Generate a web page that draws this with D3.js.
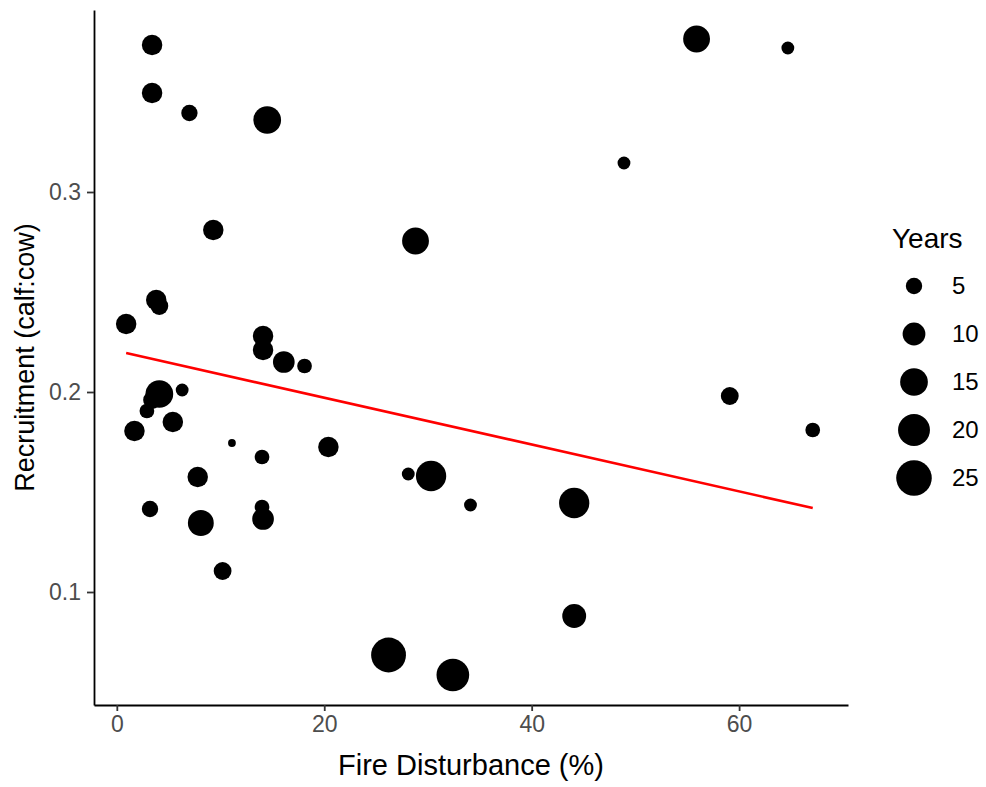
<!DOCTYPE html>
<html>
<head>
<meta charset="utf-8">
<script src="https://cdn.jsdelivr.net/npm/d3@7"></script>
<style>
  body { margin: 0; background: #fff; }
  svg text { font-family: "Liberation Sans", Arial, sans-serif; }
</style>
</head>
<body>
<div id="chart-area"></div>
<script>
// fire disturbance (%), recruitment (calf:cow) and years of data per herd
var fire = [3.4, 3.4, 7.0, 14.5, 9.3, 28.8, 48.9, 55.9, 64.7, 0.9,
            3.8, 4.1, 14.1, 14.1, 16.1, 18.1, 4.1, 3.4, 2.9, 6.3,
            1.7, 5.4, 11.1, 14.0, 20.4, 7.8, 3.2, 8.1, 14.0, 14.1,
            10.2, 28.1, 30.3, 34.1, 44.1, 44.1, 26.2, 32.4, 59.1, 67.1];
var recruit = [0.3735, 0.3495, 0.3395, 0.336, 0.281, 0.2755, 0.3145, 0.3765, 0.372, 0.234,
               0.246, 0.243, 0.228, 0.221, 0.215, 0.213, 0.199, 0.196, 0.1905, 0.201,
               0.1805, 0.185, 0.1745, 0.1675, 0.1725, 0.1575, 0.1415, 0.1345, 0.1425, 0.1365,
               0.1105, 0.159, 0.158, 0.1435, 0.1445, 0.088, 0.0685, 0.0585, 0.198, 0.181];
var years = [8, 8, 5, 15, 8, 14, 3, 14, 3, 8,
             8, 6, 8, 8, 9, 4, 15, 6, 4, 3,
             8, 8, 1, 4, 8, 8, 5, 13, 4, 9,
             6, 3, 18, 3, 18, 11, 24, 21, 6, 4];

// fitted trend line end points
var trendX = [0.9, 67.1];
var trendY = [0.2195, 0.142];

var xTicks = [0, 20, 40, 60];
var yTicks = [0.1, 0.2, 0.3];
var legendYears = [5, 10, 15, 20, 25];

var width = 986, height = 787;
var margin = { left: 94, right: 138, top: 10, bottom: 82 };

var svg = d3.select("#chart-area")
    .append("svg")
        .attr("width", width)
        .attr("height", height);

var x = d3.scaleLinear()
    .domain([-2.2, 70.5])
    .range([margin.left, width - margin.right]);

var y = d3.scaleLinear()
    .domain([0.0435, 0.391])
    .range([height - margin.bottom, margin.top]);

// ggplot style size scale: sqrt mapped to size 1..6, then to pixels
var sizeScale = d3.scaleSqrt().domain([1, 27]).range([1, 6]);
function radius(v) { return 2.05 * (2.845 * sizeScale(v) + 0.945) / 2; }

var data = fire.map(function(d, i) {
    return { fire: d, recruit: recruit[i], years: years[i] };
});

// points
svg.append("g")
    .selectAll("circle")
    .data(data)
  .enter().append("circle")
    .attr("cx", function(d) { return x(d.fire); })
    .attr("cy", function(d) { return y(d.recruit); })
    .attr("r", function(d) { return radius(d.years); })
    .attr("fill", "#000");

// trend line
svg.append("path")
    .datum(trendX.map(function(d, i) { return [d, trendY[i]]; }))
    .attr("fill", "none")
    .attr("stroke", "#ff0000")
    .attr("stroke-width", 2.6)
    .attr("d", d3.line()
        .x(function(d) { return x(d[0]); })
        .y(function(d) { return y(d[1]); }));

// axes
var xAxis = svg.append("g")
    .attr("transform", "translate(0," + (height - margin.bottom) + ")")
    .call(d3.axisBottom(x).tickValues(xTicks).tickSize(6).tickSizeOuter(0)
        .tickPadding(5).tickFormat(d3.format("d")));

var yAxis = svg.append("g")
    .attr("transform", "translate(" + margin.left + ",0)")
    .call(d3.axisLeft(y).tickValues(yTicks).tickSize(7).tickSizeOuter(0)
        .tickPadding(6).tickFormat(d3.format(".1f")));

[xAxis, yAxis].forEach(function(ax) {
    ax.select(".domain").attr("stroke", "#000").attr("stroke-width", 1.8);
    ax.selectAll(".tick line").attr("stroke", "#333").attr("stroke-width", 1.8);
    ax.selectAll(".tick text")
        .attr("fill", "#4d4d4d")
        .style("font-size", "23px")
        .style("font-family", "Liberation Sans, Arial, sans-serif");
});

// axis titles
svg.append("text")
    .attr("x", (margin.left + width - margin.right) / 2)
    .attr("y", 775)
    .attr("text-anchor", "middle")
    .style("font-size", "29px")
    .text("Fire Disturbance (%)");

svg.append("text")
    .attr("transform", "translate(34," + ((margin.top + height - margin.bottom) / 2) + ") rotate(-90)")
    .attr("text-anchor", "middle")
    .style("font-size", "27px")
    .text("Recruitment (calf:cow)");

// legend
var legend = svg.append("g");

legend.append("text")
    .attr("x", 892)
    .attr("y", 248)
    .style("font-size", "28px")
    .text("Years");

var keys = legend.selectAll(".key")
    .data(legendYears)
  .enter().append("g")
    .attr("class", "key")
    .attr("transform", function(d, i) { return "translate(914," + (286 + i * 48) + ")"; });

keys.append("circle")
    .attr("r", function(d) { return radius(d); })
    .attr("fill", "#000");

keys.append("text")
    .attr("x", 38)
    .attr("dy", "0.35em")
    .style("font-size", "24px")
    .text(function(d) { return d; });
</script>
</body>
</html>
